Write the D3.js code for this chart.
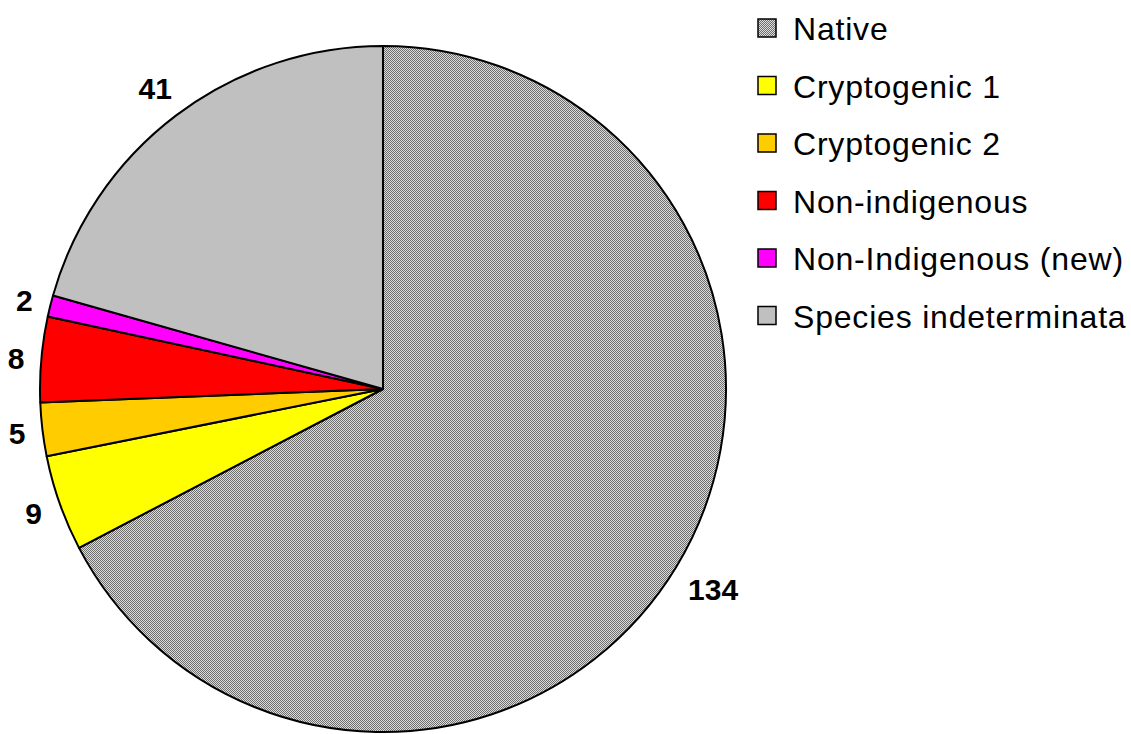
<!DOCTYPE html>
<html>
<head>
<meta charset="utf-8">
<script src="https://cdn.jsdelivr.net/npm/d3@7"></script>
<style>
  body { margin: 0; background: #fff; }
  svg { display: block; font-family: Arial, "Liberation Sans", sans-serif; }
</style>
</head>
<body>
<div class="chart"></div>
<script>
// categories and counts, clockwise from 12 o'clock
var categories = ['Native', 'Cryptogenic 1', 'Cryptogenic 2', 'Non-indigenous',
    'Non-Indigenous (new)', 'Species indeterminata'];
var counts = [134, 9, 5, 8, 2, 41];
var colours = ['url(#checker)', '#ffff00', '#ffcc00', '#ff0000', '#ff00ff', '#c0c0c0'];

var width = 1131;
var height = 734;
var cx = 383;
var cy = 389;
var radius = 343;

var svg = d3.select('.chart').append('svg')
    .attr('width', width)
    .attr('height', height);

// checkerboard fill for the native slice
var pattern = svg.append('defs').append('pattern')
    .attr('id', 'checker')
    .attr('width', 2)
    .attr('height', 2)
    .attr('patternUnits', 'userSpaceOnUse');
pattern.append('rect').attr('width', 2).attr('height', 2).attr('fill', '#dcdcdc');
pattern.append('rect').attr('width', 1).attr('height', 1).attr('fill', '#6e6e6e');
pattern.append('rect').attr('x', 1).attr('y', 1).attr('width', 1).attr('height', 1).attr('fill', '#6e6e6e');

var pie = d3.pie().sort(null).value(function(d) { return d; });
var arcs = pie(counts);
var arc = d3.arc().innerRadius(0).outerRadius(radius);

var g = svg.append('g').attr('transform', 'translate(' + cx + ',' + cy + ')');

g.selectAll('path')
    .data(arcs)
    .enter()
    .append('path')
    .attr('d', arc)
    .attr('fill', function(d, i) { return colours[i]; })
    .attr('stroke', '#000')
    .attr('stroke-width', 2)
    .attr('stroke-linejoin', 'round');

// value labels just outside the rim
var labelSize = 30;
g.selectAll('text.value')
    .data(arcs)
    .enter()
    .append('text')
    .attr('class', 'value')
    .attr('font-size', labelSize + 'px')
    .attr('font-weight', 'bold')
    .attr('text-anchor', 'middle')
    .attr('dominant-baseline', 'central')
    .text(function(d) { return d.value; })
    .each(function(d) {
        var a = (d.startAngle + d.endAngle) / 2;
        var s = Math.sin(a), c = Math.cos(a);
        var halfW = String(d.value).length * labelSize * 0.278;
        var halfH = labelSize * 0.36;
        var r = radius + 16 + halfW * Math.abs(s) + halfH * Math.abs(c);
        d3.select(this).attr('x', r * s).attr('y', -r * c + 1);
    });

// legend
var legend = svg.append('g').attr('transform', 'translate(758,19)');
var rowGap = 57.5;
var rows = legend.selectAll('g')
    .data(categories)
    .enter()
    .append('g')
    .attr('transform', function(d, i) { return 'translate(0,' + (i * rowGap) + ')'; });

rows.append('rect')
    .attr('width', 18)
    .attr('height', 18)
    .attr('fill', function(d, i) { return colours[i]; })
    .attr('stroke', '#000')
    .attr('stroke-width', 1.5);

rows.append('text')
    .attr('x', 35)
    .attr('y', 10)
    .attr('dominant-baseline', 'central')
    .attr('font-size', '32px')
    .style('letter-spacing', '0.8px')
    .text(function(d) { return d; });
</script>
</body>
</html>
